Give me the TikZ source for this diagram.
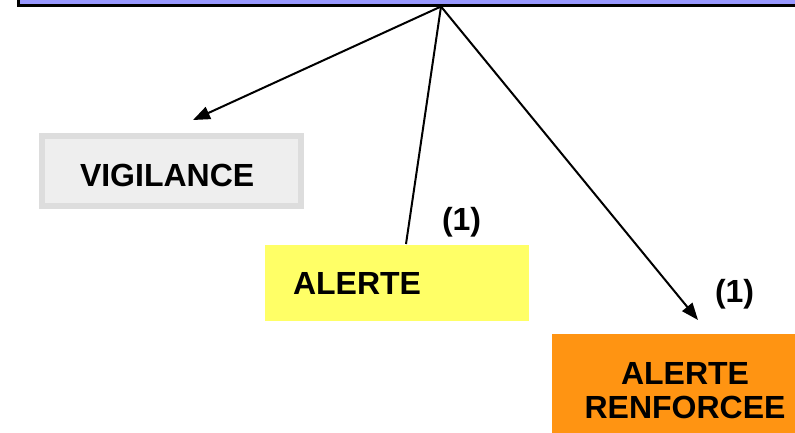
\documentclass[tikz,border=0pt]{standalone}
\usepackage{fontspec}
\setmainfont{Liberation Sans}
\usetikzlibrary{arrows.meta}

\definecolor{etatbleu}{HTML}{9999FF}
\definecolor{vigilgris}{HTML}{EEEEEE}
\definecolor{vigilbord}{HTML}{DDDDDD}
\definecolor{alertejaune}{HTML}{FFFF66}
\definecolor{renforange}{HTML}{FF9412}

\tikzset{
  niveau/.style={inner ysep=0pt,minimum height=76bp,
    font=\fontsize{32bp}{34bp}\selectfont\bfseries},
  renvoi/.style={inner sep=0pt,anchor=base west,
    font=\fontsize{32bp}{34bp}\selectfont\bfseries}
}

\begin{document}
\begin{tikzpicture}[x=1bp,y=-1bp,line width=2bp,>={Triangle[length=17bp,width=13bp]}]

\useasboundingbox (0,0) rectangle (795,432);
\clip (0,0) rectangle (795,432);

% bandeau du haut
\node [draw,fill=etatbleu,line width=3bp,anchor=south west,
  minimum width=820bp,minimum height=60bp] (etat) at (17,7) {};
\coordinate (src) at (441,6.5);

% niveaux
\node [niveau,draw=vigilbord,fill=vigilgris,line width=6bp,
  minimum width=259bp,minimum height=70bp,inner xsep=38bp,
  text width=183bp,align=left,text height=31bp,text depth=0pt] (vigil) at (171.5,171) {VIGILANCE};
\node [niveau,fill=alertejaune,minimum width=264bp,inner xsep=28bp,
  text width=208bp,align=left] (alerte) at (397,283) {ALERTE};
\node [niveau,fill=renforange,minimum width=266bp,minimum height=114bp,
  text width=230bp,align=center,anchor=north] (renf) at (685,333) {ALERTE\\RENFORCEE};

\node [renvoi] (un1) at (441,230) {(1)};
\node [renvoi] (un2) at (714,302) {(1)};

% liaisons
\coordinate (vpointe) at (193,120);
\coordinate (alien) at (406,0);
\coordinate (rpointe) at (698,320);

\draw[->]  (src)  --  (vpointe);
\draw      (src)  --  (alerte.north -| alien);
\draw[->]  (src)  --  (rpointe);

\end{tikzpicture}
\end{document}
